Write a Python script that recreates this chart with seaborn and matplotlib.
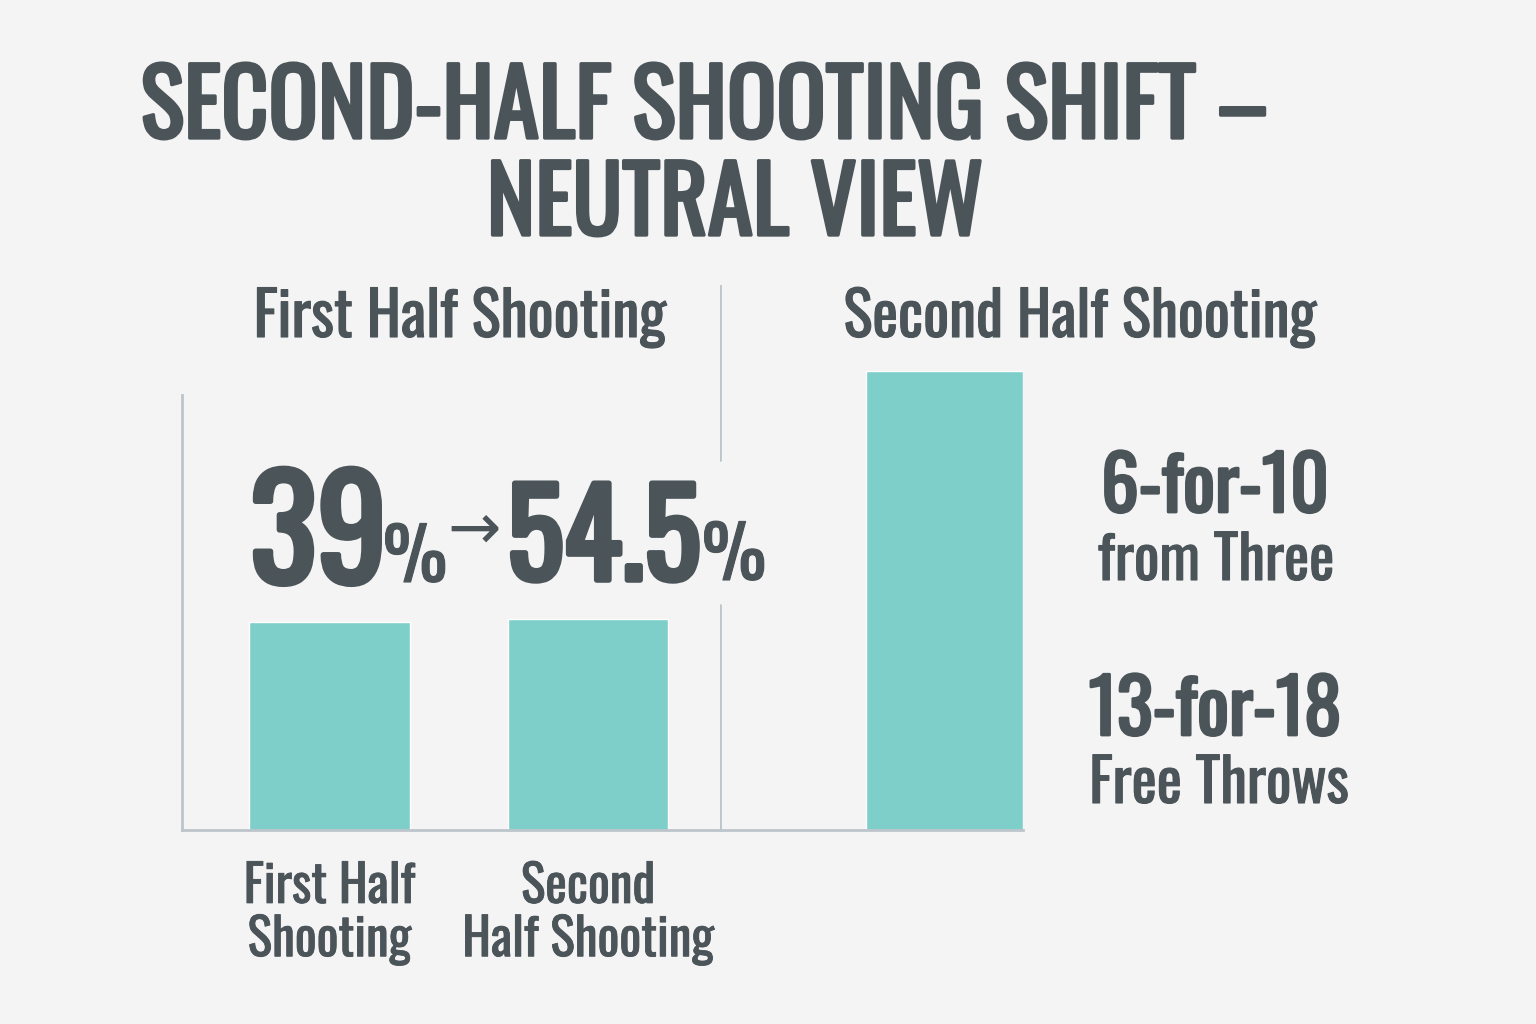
import matplotlib
matplotlib.use("Agg")
import matplotlib.pyplot as plt
import matplotlib.patheffects as pe
import seaborn as sns
import pandas as pd
from matplotlib import font_manager as fm

# bar heights (arbitrary scale, shared by both panels)
split_labels = ["First Half\nShooting", "Second\nHalf Shooting"]
split_heights = [41.6, 42.2]
detail_labels = ["Second Half Shooting"]
detail_heights = [91.8]

first_pct = "39"
second_pct = "54.5"
threes = ["6-for-10", "from Three"]
free_throws = ["13-for-18", "Free Throws"]

BG = "#F4F4F4"
BAR = "#7ECFCA"
INK = "#4B5459"
RULE = "#BCC5CC"

sns.set_theme(style="white")
installed = {f.name for f in fm.fontManager.ttflist}
candidates = ["Oswald", "Roboto Condensed", "Barlow Condensed", "Archivo Narrow",
              "PT Sans Narrow", "Liberation Sans Narrow", "DejaVu Sans"]
FONT = next(c for c in candidates if c in installed)
plt.rcParams["font.family"] = [FONT, "DejaVu Sans"]

W, H = 1536, 1024
fig = plt.figure(figsize=(W / 100, H / 100), dpi=100, facecolor=BG)


def fx(px):
    return px / W


def fy(py):
    return 1 - py / H


def heavy(lw):
    # fake a heavier weight by stroking the glyph outline
    return [pe.withStroke(linewidth=lw, foreground=INK)]


ax_l = fig.add_axes([fx(182), fy(830), fx(538), 435 / H], facecolor="none")
ax_r = fig.add_axes([fx(720), fy(830), fx(303), 545 / H], facecolor="none")

left_df = pd.DataFrame({"label": split_labels, "value": split_heights})
right_df = pd.DataFrame({"label": detail_labels, "value": detail_heights})

sns.barplot(data=left_df, x="label", y="value", color=BAR, saturation=1,
            width=0.62, ax=ax_l)
sns.barplot(data=right_df, x="label", y="value", color=BAR, saturation=1,
            width=0.62, ax=ax_r)

ax_l.set_xlim(-0.57, 1.51)
ax_l.set_ylim(0, 87)
ax_r.set_xlim(-0.887, 0.31)
ax_r.set_ylim(0, 109)

for ax in (ax_l, ax_r):
    ax.set_xlabel("")
    ax.set_ylabel("")
    ax.set_yticks([])
    for side in ("top", "right"):
        ax.spines[side].set_visible(False)
    ax.spines["bottom"].set_color(RULE)
    ax.spines["bottom"].set_linewidth(2)
    ax.tick_params(axis="x", length=0)

ax_l.spines["left"].set_color(RULE)
ax_l.spines["left"].set_linewidth(2)
ax_l.tick_params(axis="x", pad=23, labelsize=37, labelcolor=INK)
for t in ax_l.get_xticklabels():
    t.set_linespacing(1.08)
    t.set_path_effects(heavy(0.6))

ax_r.spines["left"].set_visible(False)
ax_r.set_xticks([])
xl = ax_r.get_xlim()[0]
ax_r.axvline(xl, ymin=0, ymax=0.413, color=RULE, lw=2)
ax_r.axvline(xl, ymin=0.679, ymax=1, color=RULE, lw=2)

# title
fig.text(fx(704), fy(138), "SECOND-HALF SHOOTING SHIFT –", ha="center", va="baseline",
         fontsize=66, color=INK, path_effects=heavy(2.4))
fig.text(fx(735), fy(235), "NEUTRAL VIEW", ha="center", va="baseline",
         fontsize=66, color=INK, path_effects=heavy(2.4))

# panel headings
fig.text(fx(460), fy(337), "First Half Shooting", ha="center", va="baseline",
         fontsize=44, color=INK, path_effects=heavy(0.8))
fig.text(fx(1080), fy(337), detail_labels[0], ha="center", va="baseline",
         fontsize=44, color=INK, path_effects=heavy(0.8))

# headline percentages
fig.text(fx(250), fy(583), first_pct, ha="left", va="baseline",
         fontsize=101, color=INK, path_effects=heavy(4))
fig.text(fx(383), fy(582), "%", ha="left", va="baseline",
         fontsize=52, color=INK, path_effects=heavy(0.8))
fig.text(fx(474), fy(531), "→", ha="center", va="center",
         fontsize=46, color=INK, family="DejaVu Sans")
fig.text(fx(507), fy(580), second_pct, ha="left", va="baseline",
         fontsize=86, color=INK, path_effects=heavy(4))
fig.text(fx(702), fy(580), "%", ha="left", va="baseline",
         fontsize=52, color=INK, path_effects=heavy(0.8))

# side notes
fig.text(fx(1215), fy(512), threes[0], ha="center", va="baseline",
         fontsize=54, color=INK, path_effects=heavy(2))
fig.text(fx(1216), fy(580), threes[1], ha="center", va="baseline",
         fontsize=43, color=INK, path_effects=heavy(0.8))
fig.text(fx(1215), fy(735), free_throws[0], ha="center", va="baseline",
         fontsize=54, color=INK, path_effects=heavy(2))
fig.text(fx(1219), fy(803), free_throws[1], ha="center", va="baseline",
         fontsize=43, color=INK, path_effects=heavy(0.8))

fig.savefig("out.png", dpi=100, facecolor=BG)
